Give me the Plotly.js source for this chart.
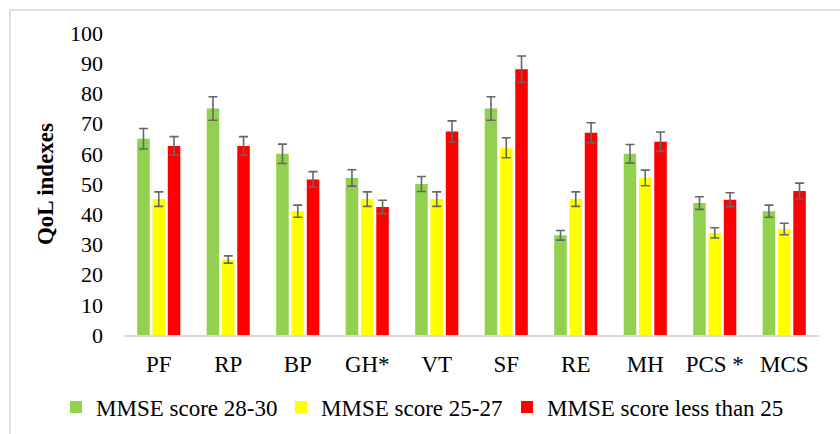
<!DOCTYPE html>
<html>
<head>
<meta charset="utf-8">
<script src="https://cdn.plot.ly/plotly-3.0.1.min.js"></script>
<style>
  html, body { margin: 0; padding: 0; background: #fff; }
  #wrap { position: relative; width: 840px; height: 434px; overflow: hidden; }
  #chart { width: 840px; height: 434px; }
  #frame { position: absolute; left: 9px; top: 9px; width: 900px; height: 500px;
           border: 2px solid #e0e0e0; pointer-events: none; box-sizing: border-box; }
</style>
</head>
<body>
<div id="wrap">
  <div id="chart"></div>
  <div id="frame"></div>
</div>
<script>
const categories = ["PF", "RP", "BP", "GH*", "VT", "SF", "RE", "MH", "PCS *", "MCS"];
const seriesNames = ["MMSE score 28-30", "MMSE score 25-27", "MMSE score less than 25"];
const green = [65, 75, 60, 52, 50, 75, 33, 60, 43.7, 41];
const greenErr = [3.4, 3.9, 3.2, 2.7, 2.5, 3.9, 1.6, 3.1, 2.1, 2.0];
const yellow = [45, 25, 41, 45, 45, 62, 45, 52, 33.8, 35.1];
const yellowErr = [2.4, 1.2, 2.0, 2.4, 2.4, 3.3, 2.4, 2.6, 1.7, 1.9];
const red = [62.6, 62.6, 51.5, 42.4, 67.4, 88, 67, 64, 44.8, 47.7];
const redErr = [3.1, 3.1, 2.6, 2.2, 3.5, 4.4, 3.3, 3.2, 2.3, 2.6];
const yTicks = [0, 10, 20, 30, 40, 50, 60, 70, 80, 90, 100];

const colors = ["#92D050", "#FFFF00", "#FF0000"];
const values = [green, yellow, red];
const errs = [greenErr, yellowErr, redErr];
const FONT = "Liberation Serif";
const legendIds = ["legend", "legend2", "legend3"];
const legendLeft = [56, 281, 507];

const traces = values.map((v, i) => ({
  type: "bar",
  name: seriesNames[i],
  x: categories,
  y: v,
  legend: legendIds[i],
  marker: { color: colors[i] },
  error_y: { type: "data", array: errs[i], visible: true, color: "#666666", thickness: 1.6, width: 4.5 },
  hoverinfo: "skip"
}));

const layout = {
  width: 840, height: 434,
  margin: { l: 124, r: 21, t: 33, b: 99 },
  paper_bgcolor: "#ffffff",
  plot_bgcolor: "#ffffff",
  barmode: "group",
  bargap: 0.34,
  bargroupgap: 0.18,
  font: { family: FONT, color: "#000" },
  xaxis: {
    type: "category",
    showline: true, linecolor: "#d9d9d9", linewidth: 1.5,
    showgrid: false, zeroline: false, ticks: "",
    tickfont: { family: FONT, size: 23, color: "#000" },
    ticklabelstandoff: 8
  },
  yaxis: {
    range: [0, 100],
    tickvals: yTicks,
    showline: false, showgrid: false, zeroline: false, ticks: "",
    tickfont: { family: FONT, size: 22, color: "#000" },
    ticklabelstandoff: 20,
    title: { text: "<b>QoL indexes</b>", font: { family: FONT, size: 23, color: "#000" }, standoff: 9 }
  },
  showlegend: true
};

legendIds.forEach((id, i) => {
  layout[id] = {
    orientation: "h",
    xref: "container", yref: "container",
    x: legendLeft[i] / 840, xanchor: "left",
    y: 1 - 407 / 434, yanchor: "middle",
    font: { family: FONT, size: 23, color: "#000" },
    bgcolor: "rgba(0,0,0,0)"
  };
});

Plotly.newPlot("chart", traces, layout, { staticPlot: true, displayModeBar: false });
</script>
</body>
</html>
